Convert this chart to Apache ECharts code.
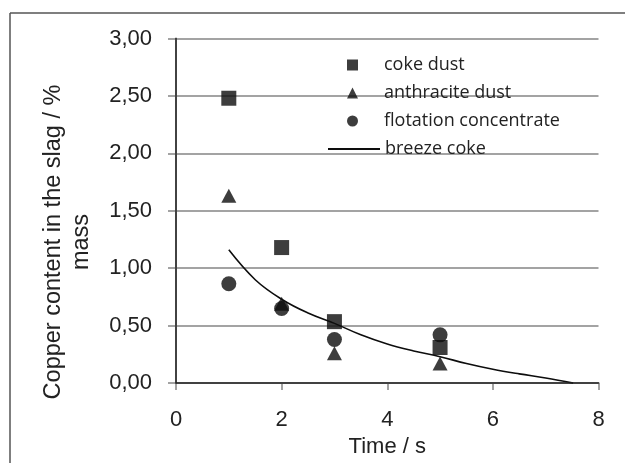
<!DOCTYPE html>
<html>
<head>
<meta charset="utf-8">
<script src="https://cdn.jsdelivr.net/npm/echarts@6/dist/echarts.min.js"></script>
<style>
  html, body { margin: 0; padding: 0; background: #fff; }
  #chart { width: 625px; height: 463px; }
</style>
</head>
<body>
<div id="chart"></div>
<script>
  const cokeDust = [[1, 2.48], [2, 1.18], [3, 0.535], [5, 0.31]]
  const anthraciteDust = [[1, 1.63], [2, 0.69], [3, 0.26], [5, 0.17]]
  const flotationConc = [[1, 0.865], [2, 0.65], [3, 0.38], [5, 0.42]]
  // breeze coke trend line
  const breezeCoke = [[1, 1.16], [1.5, 0.9], [2, 0.73], [2.5, 0.61], [3, 0.52],
    [3.5, 0.42], [4, 0.34], [4.5, 0.28], [5, 0.23], [5.5, 0.17], [6, 0.12],
    [6.5, 0.08], [7, 0.045], [7.52, 0]]

  const axisFont = 'Liberation Sans, Arial, sans-serif'
  const gray = '#a3a3a3'
  const ink = '#0d0d0d'
  const legendText = {
    fontFamily: 'Open Sans, sans-serif',
    fontSize: 18,
    color: '#222',
    lineHeight: 18
  }

  const chart = echarts.init(document.getElementById('chart'), null, { renderer: 'canvas' })

  const option = {
    animation: false,
    backgroundColor: '#fff',
    graphic: [
      { type: 'line', shape: { x1: 10, y1: 13, x2: 625, y2: 13 }, style: { stroke: '#555', lineWidth: 1.5 } },
      { type: 'line', shape: { x1: 10, y1: 13, x2: 10, y2: 463 }, style: { stroke: '#555', lineWidth: 1.5 } },
      {
        type: 'text',
        x: 68,
        y: 242,
        rotation: Math.PI / 2,
        style: {
          text: 'Copper content in the slag / %\nmass',
          fontFamily: axisFont,
          fontSize: 23.5,
          lineHeight: 28,
          fill: '#222',
          align: 'center',
          verticalAlign: 'middle'
        }
      }
    ],
    grid: {
      left: 176,
      right: 26.5,
      top: 38.5,
      bottom: 79.5
    },
    legend: [{
      // marker entries
      orient: 'vertical',
      left: 342,
      top: 51,
      itemWidth: 11,
      itemHeight: 11,
      itemGap: 10,
      textStyle: Object.assign({ padding: [0, 0, 0, 21] }, legendText),
      data: ['coke dust', 'anthracite dust', 'flotation concentrate']
    }, {
      // trend line entry
      orient: 'vertical',
      left: 322,
      top: 135,
      itemWidth: 52,
      itemHeight: 11,
      textStyle: legendText,
      data: [{ name: 'breeze coke', itemStyle: { opacity: 0 } }]
    }],
    xAxis: [{
      type: 'value',
      min: 0,
      max: 8,
      interval: 2,
      name: 'Time / s',
      nameLocation: 'middle',
      nameGap: 50,
      nameTextStyle: { fontFamily: axisFont, fontSize: 22, color: '#222' },
      axisLine: { lineStyle: { color: gray, width: 2 } },
      axisTick: { length: 7, lineStyle: { color: gray, width: 2 } },
      splitLine: { show: false },
      axisLabel: { margin: 26, fontFamily: axisFont, fontSize: 22, color: '#222' }
    }, {
      type: 'value',
      position: 'top',
      min: 0,
      max: 8,
      z: 5,
      axisLine: { show: true, lineStyle: { color: '#222', width: 1.5 } },
      axisTick: { show: false },
      axisLabel: { show: false },
      splitLine: { show: false }
    }],
    yAxis: [{
      type: 'value',
      min: 0,
      max: 3,
      interval: 0.5,
      axisLine: { show: true, lineStyle: { color: gray, width: 2 } },
      axisTick: { show: true, length: 8, lineStyle: { color: gray, width: 2 } },
      splitLine: { lineStyle: { color: gray, width: 2 } },
      axisLabel: {
        margin: 24,
        fontFamily: axisFont,
        fontSize: 22,
        color: '#222',
        formatter: function(v) {
          return v.toFixed(2).replace('.', ',')
        }
      }
    }, {
      type: 'value',
      position: 'right',
      min: 0,
      max: 3,
      z: 5,
      axisLine: { show: true, lineStyle: { color: '#222', width: 1.5 } },
      axisTick: { show: false },
      axisLabel: { show: false },
      splitLine: { show: false }
    }],
    series: [{
      name: 'coke dust',
      type: 'scatter',
      symbol: 'rect',
      symbolSize: 15,
      itemStyle: { color: ink },
      data: cokeDust
    }, {
      name: 'anthracite dust',
      type: 'scatter',
      symbol: 'triangle',
      symbolSize: [15, 14],
      itemStyle: { color: ink },
      data: anthraciteDust
    }, {
      name: 'flotation concentrate',
      type: 'scatter',
      symbol: 'circle',
      symbolSize: 15,
      itemStyle: { color: ink },
      data: flotationConc
    }, {
      name: 'breeze coke',
      type: 'line',
      smooth: 0.4,
      symbol: 'none',
      showSymbol: false,
      lineStyle: { color: ink, width: 1.6 },
      itemStyle: { color: ink },
      data: breezeCoke
    }]
  }

  chart.setOption(option)
</script>
</body>
</html>
